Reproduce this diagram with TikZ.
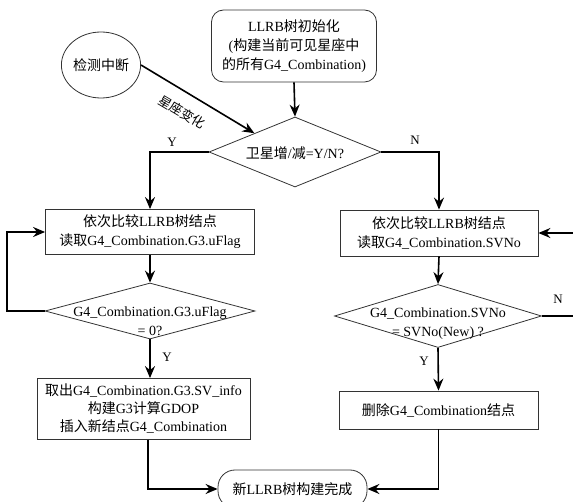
\documentclass[tikz,border=0pt]{standalone}
\usepackage{fontspec}
\setmainfont{Liberation Serif}
\newfontfamily\cjk{Noto Sans CJK SC}
\newcommand\zh[1]{{\cjk #1}}
\usetikzlibrary{arrows.meta,shapes.geometric,calc}
\tikzset{
  box/.style={draw=black!80, line width=0.8pt, rectangle, align=center, inner sep=0pt},
  dia/.style={draw=black!80, line width=0.8pt, diamond, inner sep=0pt},
  txt/.style={align=center, inner sep=0pt},
  arr/.style={line width=1.6pt, -{Stealth[length=12pt,width=10pt,inset=4pt]}},
  lab/.style={font=\fontsize{13}{15}\selectfont, inner sep=0pt}
}
\begin{document}
\begin{tikzpicture}[x=1pt,y=-1pt,font=\fontsize{14}{19}\selectfont]
\useasboundingbox (0,0) rectangle (573,502);
\clip (0,0) rectangle (573,502);

% nodes
\node[draw=black!80, line width=0.8pt, ellipse, minimum width=78pt, minimum height=66pt, inner sep=0pt] (c) at (101,65) {\zh{检测中断}};
\node[box, rounded corners=12pt, minimum width=165pt, minimum height=72pt] (init) at (294,46)
  {LLRB\zh{树初始化}\\(\zh{构建当前可见星座中}\\\zh{的所有}G4\_Combination)};
\node[dia, minimum width=172pt, minimum height=70pt] (d1) at (295,152) {};
\node[txt] (d1t) at (295,153) {\zh{卫星增}/\zh{减}=Y/N?};

\node[box, minimum width=209pt, minimum height=45pt] (b1) at (150,232)
  {\zh{依次比较}LLRB\zh{树结点}\\\zh{读取}G4\_Combination.G3.uFlag};
\node[box, minimum width=198pt, minimum height=46pt] (b2) at (439,233)
  {\zh{依次比较}LLRB\zh{树结点}\\\zh{读取}G4\_Combination.SVNo};

\node[dia, minimum width=210pt, minimum height=56pt] (d2) at (150,311) {};
\node[txt] (d2t) at (150,321) {G4\_Combination.G3.uFlag\\= 0?};
\node[dia, minimum width=207pt, minimum height=63pt] (d3) at (438,316) {};
\node[txt] (d3t) at (438,324) {G4\_Combination.SVNo\\= SVNo(New) ?};

\node[box, minimum width=213pt, minimum height=61pt, font=\fontsize{14}{18}\selectfont] (b3) at (143.5,409)
  {\zh{取出}G4\_Combination.G3.SV\_info\\\zh{构建}G3\zh{计算}GDOP\\\zh{插入新结点}G4\_Combination};
\node[box, minimum width=199pt, minimum height=38pt] (b4) at (438.5,410)
  {\zh{删除}G4\_Combination\zh{结点}};

\node[box, rounded corners=17pt, minimum width=149pt, minimum height=38pt] (end) at (292.5,489)
  {\zh{新}LLRB\zh{树构建完成}};

% helper coordinates
\coordinate (hit) at ($(d1.west)!0.53!(d1.north)$);
\coordinate (lp) at (7,311);
\coordinate (rp) at (595,316);
\coordinate (b3o) at (148,439.5);

% connectors
\draw[arr] (init.south) -- (d1.north);
\draw[arr] (c.east) -- (hit);
\draw[arr] (d1.west) -| (b1.north);
\draw[arr] (d1.east) -| (b2.north);
\draw[arr] (b1.south) -- (d2.north);
\draw[arr] (d2.west) -- (lp) |- (b1.west);
\draw[arr] (d2.south) -- (d2.south |- b3.north);
\draw[arr] (b2.south) -- (d3.north);
\draw[arr] (d3.east) -- (rp) |- (b2.east);
\draw[arr] (d3.south) -- (b4.north);
\draw[arr] (b3o) |- (end.west);
\draw[arr] (b4.south) |- (end.east);

% labels
\node[lab] (ly1) at (172,142) {Y};
\node[lab] (ln1) at (415,140) {N};
\node[lab] (ly2) at (167,357) {Y};
\node[lab] (ln2) at (558,299) {N};
\node[lab] (ly3) at (424,361) {Y};
\node[lab, rotate=-30.6] (lsv) at (182,112) {\zh{星座变化}};
\end{tikzpicture}
\end{document}
